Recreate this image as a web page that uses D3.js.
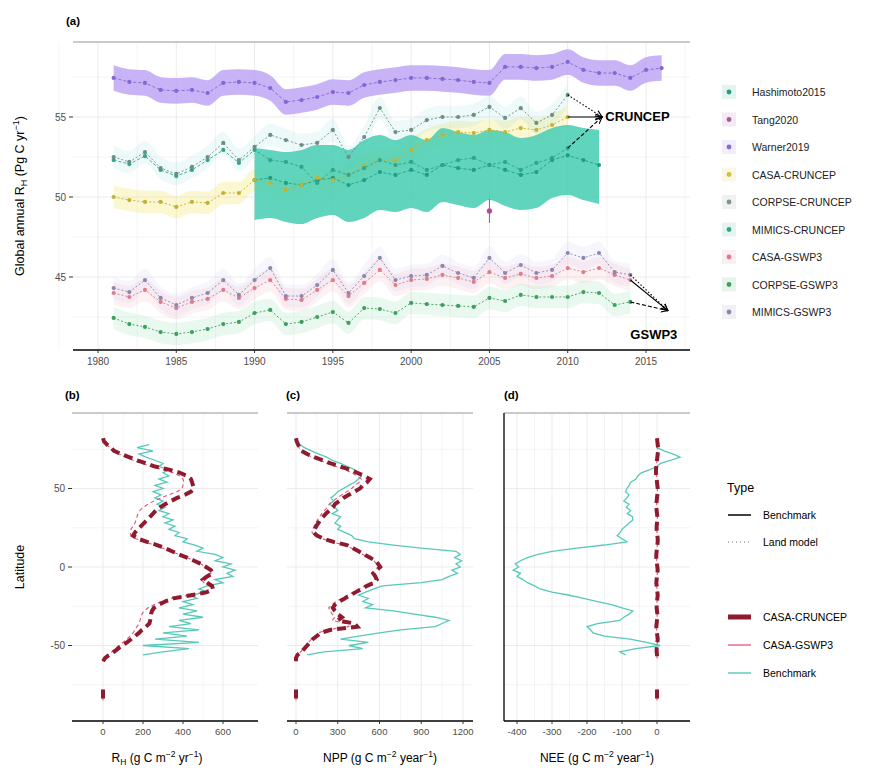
<!DOCTYPE html>
<html>
<head>
<meta charset="utf-8">
<script src="https://cdn.jsdelivr.net/npm/d3@7"></script>
<style>
  body { margin: 0; background: #fff; }
  text { font-family: "Liberation Sans", Arial, sans-serif; }
</style>
</head>
<body>
<svg id="chart" width="893" height="776"></svg>
<script>
// --- Datos panel (a): R_H global anual (Pg C / año) ---
const yearsModel = [1981,1982,1983,1984,1985,1986,1987,1988,1989,1990,1991,1992,1993,1994,1995,1996,1997,1998,1999,2000,2001,2002,2003,2004,2005,2006,2007,2008,2009,2010];
const yearsGswp = [1981,1982,1983,1984,1985,1986,1987,1988,1989,1990,1991,1992,1993,1994,1995,1996,1997,1998,1999,2000,2001,2002,2003,2004,2005,2006,2007,2008,2009,2010,2011,2012,2013,2014];
const yearsWarner = [1981,1982,1983,1984,1985,1986,1987,1988,1989,1990,1991,1992,1993,1994,1995,1996,1997,1998,1999,2000,2001,2002,2003,2004,2005,2006,2007,2008,2009,2010,2011,2012,2013,2014,2015,2016];
const yearsHashimoto = [1990,1991,1992,1993,1994,1995,1996,1997,1998,1999,2000,2001,2002,2003,2004,2005,2006,2007,2008,2009,2010,2011,2012];

const warner = [57.44,57.19,57.13,56.69,56.63,56.69,56.5,57.13,57.19,57.13,56.81,55.94,56.06,56.25,56.56,56.5,57.0,57.19,57.31,57.44,57.44,57.38,57.31,57.19,57.13,58.13,58.13,58.06,58.13,58.44,57.94,57.75,57.75,57.44,57.94,58.06];
const hashimoto = [51.06,51.19,50.88,50.75,51.06,51.19,50.75,51.06,51.56,51.38,51.69,51.38,52.0,51.81,51.69,52.0,51.69,51.38,51.56,52.31,52.6,52.31,52.0];
const hashimotoHigh = [53.06,52.94,52.81,52.94,53.25,53.25,52.94,53.56,53.88,53.56,53.88,53.56,54.31,54.06,53.88,54.19,54.06,53.69,53.88,54.31,54.5,54.31,54.19];
const hashimotoLow = [48.56,48.69,48.44,48.31,48.69,48.88,48.44,48.69,49.19,49.06,49.31,49.06,49.69,49.5,49.31,49.81,49.44,49.19,49.31,49.94,50.13,49.81,49.56];
const tangYear = [2005];
const tang = [49.13];
const tangErr = [0.75];

const casaCru = [50.0,49.81,49.69,49.69,49.38,49.69,49.63,50.25,50.25,51.06,50.88,50.44,50.75,51.19,51.06,51.38,52.0,52.31,52.31,52.94,53.56,53.88,54.06,54.0,54.19,54.06,54.31,54.19,54.5,55.0];
const corpseCru = [52.5,52.19,52.81,51.81,51.44,51.88,52.5,53.38,52.31,53.13,53.88,53.56,53.25,53.38,54.19,52.5,53.75,55.56,54.06,54.19,54.81,55.0,55.0,55.13,55.63,54.94,55.56,54.63,55.13,56.38];
const mimicsCru = [52.31,52.06,52.56,51.69,51.31,51.69,52.31,52.94,52.13,52.94,52.31,52.19,51.88,50.88,51.69,51.38,51.81,52.31,52.0,52.19,51.69,52.0,52.31,52.44,52.0,52.19,51.69,52.13,52.44,53.06];
const casaGswp = [44.0,43.75,44.19,43.44,43.06,43.44,43.63,44.19,43.69,44.31,44.81,43.63,43.56,44.19,44.81,43.81,44.63,45.44,44.5,44.81,44.88,45.13,44.94,44.69,45.31,44.94,45.19,44.94,45.06,45.56,45.31,45.56,45.13,44.81];
const corpseGswp = [42.44,42.06,41.88,41.56,41.44,41.56,41.75,42.06,42.19,42.75,42.94,42.06,42.19,42.5,42.81,42.13,43.06,43.0,42.75,43.38,43.31,43.25,43.19,43.13,43.69,43.5,43.88,43.75,43.75,43.75,44.06,44.0,43.25,43.44];
const mimicsGswp = [44.31,44.06,44.81,43.69,43.25,43.69,44.0,44.81,43.88,44.81,45.56,43.81,43.81,44.5,45.44,44.0,45.06,46.19,44.81,45.06,45.13,45.69,45.25,44.94,46.19,45.25,45.75,45.25,45.44,46.5,46.19,46.5,45.31,45.13];

const legendNamesA = ['Hashimoto2015','Tang2020','Warner2019','CASA-CRUNCEP','CORPSE-CRUNCEP','MIMICS-CRUNCEP','CASA-GSWP3','CORPSE-GSWP3','MIMICS-GSWP3'];
const legendColorsA = ['#1E9E85','#A65C96','#8A6AD6','#D2C03A','#7E958B','#2FA58E','#E07B8C','#3F9F5E','#8E86AE'];
const yearTicks = [1980,1985,1990,1995,2000,2005,2010,2015];
const rhTicks = [45,50,55];

// --- Datos paneles (b)-(d): perfiles latitudinales ---
const latModel = [82,80,78,76,74,72,70,68,66,64,62,60,58,56,54,52,50,48,46,44,42,40,38,36,34,32,30,28,26,24,22,20,18,16,14,12,10,8,6,4,2,0,-2,-4,-6,-8,-10,-12,-14,-16,-18,-20,-22,-24,-26,-28,-30,-32,-34,-36,-38,-40,-42,-44,-46,-48,-50,-52,-54,-56,-58,-60,-62,-64,-66,-68,-70,-72,-74,-76,-78,-80,-82,-84,-86];
const latBench = [78,76,74,72,70,68,66,64,62,60,58,56,54,52,50,48,46,44,42,40,38,36,34,32,30,28,26,24,22,20,18,16,14,12,10,8,6,4,2,0,-2,-4,-6,-8,-10,-12,-14,-16,-18,-20,-22,-24,-26,-28,-30,-32,-34,-36,-38,-40,-42,-44,-46,-48,-50,-52,-54,-56];

const rhCasaCru = [
  0,5,20,40,55,90,130,170,215,260,
  330,385,420,440,445,450,455,440,410,370,
  340,310,285,265,250,235,220,205,190,175,
  160,150,175,220,270,310,345,380,420,455,
  490,515,540,550,520,500,520,545,550,520,
  440,350,310,280,255,245,240,238,236,232,
  215,195,180,160,140,120,95,75,55,30,
  10,0,null,null,null,null,null,null,null,null,
  0,0,0,0,0];
const rhCasaGswp = [
  0,5,18,35,50,80,115,150,195,240,
  300,350,385,400,405,400,395,370,330,290,
  255,225,200,185,175,170,165,160,150,140,
  135,140,165,210,255,300,340,380,420,455,
  490,510,530,540,510,490,505,530,535,505,
  430,340,290,255,225,205,195,190,185,180,
  170,160,150,135,120,100,80,60,45,25,
  8,0,null,null,null,null,null,null,null,null,
  0,0,0,0,0];
const rhBench = [
  230,170,250,180,215,260,300,280,330,300,
  330,280,320,260,300,250,290,260,300,270,
  310,280,330,300,350,310,360,330,380,360,
  420,400,460,500,470,560,600,560,640,600,
  660,620,650,560,600,520,480,520,430,470,
  400,450,380,470,400,500,380,440,330,480,
  300,420,260,480,200,430,300,200];

const nppCasaCru = [
  0,5,15,25,40,80,130,190,250,320,
  390,440,490,530,510,480,460,420,380,340,
  310,280,265,240,215,195,175,160,145,135,
  125,150,200,270,365,410,450,490,530,570,
  590,605,580,555,570,580,560,510,470,430,
  390,350,310,280,265,280,300,330,300,420,
  440,250,175,150,120,100,80,60,40,10,
  0,0,null,null,null,null,null,null,null,null,
  0,0,0,0,0];
const nppCasaGswp = [
  0,5,12,22,35,70,115,170,225,290,
  350,400,440,470,455,425,400,365,330,295,
  265,240,225,205,185,170,155,140,130,120,
  115,140,190,260,350,400,440,480,520,560,
  580,595,570,545,560,570,550,500,455,410,
  370,330,290,255,235,245,260,280,260,360,
  380,220,160,135,110,90,70,50,35,8,
  0,0,null,null,null,null,null,null,null,null,
  0,0,0,0,0];
const nppBench = [
  30,60,110,160,220,260,320,370,420,450,
  470,450,420,380,340,300,280,250,270,240,
  280,300,260,320,300,280,320,300,350,400,
  420,520,700,900,1150,1180,1140,1190,1150,1180,
  1120,1160,1100,1050,900,620,560,500,450,520,
  480,550,500,700,850,1000,1100,1050,1000,750,
  600,450,320,520,380,480,200,80];

const neeCasaCru = [
  0,1,2,3,3,2,1,0,-1,-2,
  -3,-3,-2,-1,0,1,2,2,1,0,
  -1,-2,-2,-1,0,1,1,0,-1,-1,
  0,1,2,2,1,0,-1,-2,-2,-1,
  0,1,2,1,0,-1,-2,-1,0,1,
  2,1,0,-1,-1,0,1,1,0,-1,
  -2,-1,0,1,2,1,0,-1,-1,0,
  0,0,null,null,null,null,null,null,null,null,
  0,0,0,0,0];
const neeCasaGswp = [
  0,1,1,2,2,1,0,0,-1,-1,
  -2,-2,-1,0,0,1,1,1,0,0,
  -1,-1,-1,0,0,1,1,0,0,-1,
  0,0,1,1,1,0,0,-1,-1,-1,
  0,1,1,1,0,0,-1,-1,0,1,
  1,1,0,0,-1,0,0,1,0,0,
  -1,-1,0,0,1,1,0,0,-1,0,
  0,0,null,null,null,null,null,null,null,null,
  0,0,0,0,0];
const neeBench = [
  5,0,20,45,66,40,10,0,-20,-45,
  -55,-60,-75,-80,-86,-90,-80,-86,-95,-80,
  -88,-75,-85,-70,-69,-80,-90,-100,-105,-114,
  -100,-86,-150,-230,-300,-340,-370,-390,-405,-395,
  -411,-390,-400,-383,-370,-350,-334,-300,-250,-210,
  -170,-130,-100,-69,-80,-95,-106,-170,-200,-190,
  -183,-150,-77,-30,9,-60,-106,-90];

const latTicks = [-50,0,50];
const rhProfileTicks = [0,200,400,600];
const nppTicks = [0,300,600,900,1200];
const neeTicks = [-400,-300,-200,-100,0];

const colBench = '#56C9B9';
const colCasaCru = '#8E1B2E';
const colCasaGswp = '#E0577A';

const svg = d3.select('#chart');
const grid = '#ebebeb', gridMinor = '#f4f4f4', tickCol = '#4d4d4d';

// --- Panel (a) ---
const A = { left: 73, right: 690, top: 42, bottom: 350 };
const xA = d3.scaleLinear().domain([1980, 2015]).range([98, 646]);
const yA = d3.scaleLinear().domain([45, 55]).range([277, 117]);
const gA = svg.append('g');

[1977.5,1982.5,1987.5,1992.5,1997.5,2002.5,2007.5,2012.5,2017.5].forEach(v => {
  gA.append('line').attr('x1', xA(v)).attr('x2', xA(v)).attr('y1', A.top).attr('y2', A.bottom).attr('stroke', gridMinor);
});
[42.5,47.5,52.5,57.5].forEach(v => {
  gA.append('line').attr('x1', A.left).attr('x2', A.right).attr('y1', yA(v)).attr('y2', yA(v)).attr('stroke', gridMinor);
});
yearTicks.forEach(v => {
  gA.append('line').attr('x1', xA(v)).attr('x2', xA(v)).attr('y1', A.top).attr('y2', A.bottom).attr('stroke', grid);
});
rhTicks.forEach(v => {
  gA.append('line').attr('x1', A.left).attr('x2', A.right).attr('y1', yA(v)).attr('y2', yA(v)).attr('stroke', grid);
});
gA.append('line').attr('x1', A.left).attr('x2', A.right).attr('y1', A.top).attr('y2', A.top).attr('stroke', '#b8b8b8').attr('stroke-width', 1.3);

// bandas
function band(g, xs, lo, hi, fill, op) {
  const area = d3.area().x((d, i) => xA(xs[i])).y0((d, i) => yA(lo[i])).y1((d, i) => yA(hi[i])).curve(d3.curveMonotoneX);
  g.append('path').datum(xs).attr('d', area).attr('fill', fill).attr('opacity', op);
}
const faint = [
  [yearsModel, casaCru, '#F2E97A', 0.35],
  [yearsModel, corpseCru, '#9FE0E6', 0.18],
  [yearsGswp, casaGswp, '#F6B3BE', 0.18],
  [yearsGswp, corpseGswp, '#A9E6BF', 0.25],
  [yearsGswp, mimicsGswp, '#D9D2EE', 0.2]
];
faint.forEach(([xs, v, c, op]) => band(gA, xs, v.map(d => d - 0.7), v.map(d => d + 0.7), c, op));
band(gA, yearsWarner, warner.map(d => d - 0.8), warner.map(d => d + 0.8), '#B9A0F2', 0.8);
band(gA, yearsHashimoto, hashimotoLow, hashimotoHigh, '#45CDB3', 0.85);

function series(g, xs, v, color, dash) {
  const line = d3.line().x((d, i) => xA(xs[i])).y(d => yA(d));
  g.append('path').datum(v).attr('d', line).attr('fill', 'none').attr('stroke', color)
    .attr('stroke-width', 0.9).attr('stroke-dasharray', dash);
  g.selectAll(null).data(v).enter().append('circle')
    .attr('cx', (d, i) => xA(xs[i])).attr('cy', d => yA(d)).attr('r', 2.1).attr('fill', color);
}
series(gA, yearsWarner, warner, '#8566D4', '3,2');
series(gA, yearsHashimoto, hashimoto, '#1E9E85', '3,2');
series(gA, yearsModel, casaCru, '#C4B233', '2,2');
series(gA, yearsModel, mimicsCru, '#2FA58E', '3,2');
series(gA, yearsModel, corpseCru, '#6E8F83', '2,2');
series(gA, yearsGswp, casaGswp, '#E07B8C', '2,2');
series(gA, yearsGswp, mimicsGswp, '#8E86AE', '2,2');
series(gA, yearsGswp, corpseGswp, '#3F9F5E', '2,2');

// Tang2020 con barra de error
tang.forEach((v, i) => {
  gA.append('line').attr('x1', xA(tangYear[i])).attr('x2', xA(tangYear[i]))
    .attr('y1', yA(v - tangErr[i])).attr('y2', yA(v + tangErr[i])).attr('stroke', '#B5489A').attr('stroke-width', 1);
  gA.append('circle').attr('cx', xA(tangYear[i])).attr('cy', yA(v)).attr('r', 2.6).attr('fill', '#B5489A');
});

// flechas
svg.append('defs').append('marker').attr('id', 'arr').attr('viewBox', '0 0 10 10')
  .attr('refX', 9).attr('refY', 5).attr('markerWidth', 7).attr('markerHeight', 7).attr('orient', 'auto')
  .append('path').attr('d', 'M0,1 L9,5 L0,9').attr('fill', 'none').attr('stroke', '#000').attr('stroke-width', 1.4);
const cruTip = [2012.2, 55];
[[corpseCru, '1.5,2'], [casaCru, null], [mimicsCru, '4,2']].forEach(([v, dash]) => {
  gA.append('line').attr('x1', xA(2010)).attr('y1', yA(v[v.length - 1]))
    .attr('x2', xA(cruTip[0])).attr('y2', yA(cruTip[1])).attr('stroke', '#000').attr('stroke-width', 1.1)
    .attr('stroke-dasharray', dash).attr('marker-end', 'url(#arr)');
});
gA.append('text').attr('x', xA(2012.4)).attr('y', yA(54.72)).attr('font-size', 13).attr('font-weight', 'bold').text('CRUNCEP');
const gswTip = [2016.4, 42.9];
[[mimicsGswp, '1.5,2'], [casaGswp, null], [corpseGswp, '4,2']].forEach(([v, dash]) => {
  gA.append('line').attr('x1', xA(2014)).attr('y1', yA(v[v.length - 1]))
    .attr('x2', xA(gswTip[0])).attr('y2', yA(gswTip[1])).attr('stroke', '#000').attr('stroke-width', 1.1)
    .attr('stroke-dasharray', dash).attr('marker-end', 'url(#arr)');
});
gA.append('text').attr('x', xA(2015.5)).attr('y', yA(41.15)).attr('text-anchor', 'middle')
  .attr('font-size', 13).attr('font-weight', 'bold').text('GSWP3');

// ejes (a)
gA.append('line').attr('x1', A.left).attr('x2', A.right).attr('y1', A.bottom).attr('y2', A.bottom).attr('stroke', '#000').attr('stroke-width', 1.3);
yearTicks.forEach(v => {
  gA.append('line').attr('x1', xA(v)).attr('x2', xA(v)).attr('y1', A.bottom).attr('y2', A.bottom + 3).attr('stroke', '#333');
  gA.append('text').attr('x', xA(v)).attr('y', A.bottom + 15).attr('text-anchor', 'middle').attr('font-size', 10).attr('fill', tickCol).text(v);
});
rhTicks.forEach(v => {
  gA.append('line').attr('x1', A.left - 4).attr('x2', A.left).attr('y1', yA(v)).attr('y2', yA(v)).attr('stroke', '#333');
  gA.append('text').attr('x', A.left - 7).attr('y', yA(v) + 3.5).attr('text-anchor', 'end').attr('font-size', 10).attr('fill', tickCol).text(v);
});
const ttlA = gA.append('text').attr('transform', `translate(24,${(A.top + A.bottom) / 2}) rotate(-90)`)
  .attr('text-anchor', 'middle').attr('font-size', 12.5);
ttlA.append('tspan').text('Global annual R');
ttlA.append('tspan').attr('font-size', 9).attr('dy', 3).text('H');
ttlA.append('tspan').attr('dy', -3).text(' (Pg C yr');
ttlA.append('tspan').attr('font-size', 9).attr('dy', -5).text('−1');
ttlA.append('tspan').attr('dy', 5).text(')');
gA.append('text').attr('x', 66).attr('y', 25).attr('font-size', 11.5).attr('font-weight', 'bold').text('(a)');

// leyenda (a)
const legA = svg.append('g').attr('transform', 'translate(722,92)');
legendNamesA.forEach((n, i) => {
  const row = legA.append('g').attr('transform', `translate(0,${i * 27.5})`);
  row.append('rect').attr('x', 0).attr('y', -7).attr('width', 14).attr('height', 14).attr('fill', legendColorsA[i]).attr('opacity', 0.12);
  row.append('circle').attr('cx', 7).attr('cy', 0).attr('r', 2.4).attr('fill', legendColorsA[i]);
  row.append('text').attr('x', 30).attr('y', 4).attr('font-size', 10.5).attr('fill', '#222').text(n);
});

// --- Paneles (b)-(d) ---
const pTop = 413, pBottom = 721;
const yL = d3.scaleLinear().domain([-50, 50]).range([645.5, 488.5]);
const panels = [
  { id: '(b)', lab: 65, left: 72, right: 258, x: d3.scaleLinear().domain([0, 600]).range([103, 223]), ticks: rhProfileTicks,
    cru: rhCasaCru, gsw: rhCasaGswp, bench: rhBench, yAxis: true, leftLine: false, title: 'rh' },
  { id: '(c)', lab: 286, left: 287, right: 473, x: d3.scaleLinear().domain([0, 1200]).range([296, 463]), ticks: nppTicks,
    cru: nppCasaCru, gsw: nppCasaGswp, bench: nppBench, yAxis: false, leftLine: false, title: 'NPP' },
  { id: '(d)', lab: 504, left: 504, right: 690, x: d3.scaleLinear().domain([-400, 0]).range([517, 657]), ticks: neeTicks,
    cru: neeCasaCru, gsw: neeCasaGswp, bench: neeBench, yAxis: false, leftLine: true, title: 'NEE' }
];

panels.forEach(p => {
  const g = svg.append('g');
  const minor = [];
  for (let i = 0; i < p.ticks.length - 1; i++) minor.push((p.ticks[i] + p.ticks[i + 1]) / 2);
  minor.forEach(v => g.append('line').attr('x1', p.x(v)).attr('x2', p.x(v)).attr('y1', pTop).attr('y2', pBottom).attr('stroke', gridMinor));
  [-75, -25, 25, 75].forEach(v => g.append('line').attr('x1', p.left).attr('x2', p.right).attr('y1', yL(v)).attr('y2', yL(v)).attr('stroke', gridMinor));
  p.ticks.forEach(v => g.append('line').attr('x1', p.x(v)).attr('x2', p.x(v)).attr('y1', pTop).attr('y2', pBottom).attr('stroke', grid));
  latTicks.forEach(v => g.append('line').attr('x1', p.left).attr('x2', p.right).attr('y1', yL(v)).attr('y2', yL(v)).attr('stroke', grid));
  g.append('line').attr('x1', p.left).attr('x2', p.right).attr('y1', pTop).attr('y2', pTop).attr('stroke', '#b8b8b8').attr('stroke-width', 1.3);

  const lineM = d3.line().defined(d => d != null).x(d => p.x(d)).y((d, i) => yL(latModel[i]));
  const lineB = d3.line().x(d => p.x(d)).y((d, i) => yL(latBench[i]));
  g.append('path').datum(p.bench).attr('d', lineB).attr('fill', 'none').attr('stroke', colBench).attr('stroke-width', 1.3);
  g.append('path').datum(p.gsw).attr('d', lineM).attr('fill', 'none').attr('stroke', colCasaGswp)
    .attr('stroke-width', 1.1).attr('stroke-dasharray', '4,3');
  g.append('path').datum(p.cru).attr('d', lineM).attr('fill', 'none').attr('stroke', colCasaCru)
    .attr('stroke-width', 4).attr('stroke-dasharray', '9,5');

  g.append('line').attr('x1', p.left).attr('x2', p.right).attr('y1', pBottom).attr('y2', pBottom).attr('stroke', '#000').attr('stroke-width', 1.3);
  if (p.leftLine) g.append('line').attr('x1', p.left).attr('x2', p.left).attr('y1', pTop).attr('y2', pBottom).attr('stroke', '#000').attr('stroke-width', 1.3);
  p.ticks.forEach(v => {
    g.append('line').attr('x1', p.x(v)).attr('x2', p.x(v)).attr('y1', pBottom).attr('y2', pBottom + 3).attr('stroke', '#333');
    g.append('text').attr('x', p.x(v)).attr('y', pBottom + 14).attr('text-anchor', 'middle').attr('font-size', 9.5).attr('fill', tickCol).text(v);
  });
  if (p.yAxis) {
    latTicks.forEach(v => {
      g.append('line').attr('x1', p.left - 4).attr('x2', p.left).attr('y1', yL(v)).attr('y2', yL(v)).attr('stroke', '#333');
      g.append('text').attr('x', p.left - 7).attr('y', yL(v) + 3.5).attr('text-anchor', 'end').attr('font-size', 10).attr('fill', tickCol).text(v);
    });
    g.append('text').attr('transform', `translate(24,${(pTop + pBottom) / 2}) rotate(-90)`).attr('text-anchor', 'middle')
      .attr('font-size', 12.5).text('Latitude');
  }
  g.append('text').attr('x', p.lab).attr('y', 399).attr('font-size', 11.5).attr('font-weight', 'bold').text(p.id);

  const t = g.append('text').attr('x', (p.left + p.right) / 2 - (p.title === 'rh' ? 8 : 0)).attr('y', 762)
    .attr('text-anchor', 'middle').attr('font-size', 12);
  if (p.title === 'rh') {
    t.append('tspan').text('R');
    t.append('tspan').attr('font-size', 8.5).attr('dy', 3).text('H');
    t.append('tspan').attr('dy', -3).text(' (g C m');
    t.append('tspan').attr('font-size', 8.5).attr('dy', -5).text('−2');
    t.append('tspan').attr('dy', 5).text(' yr');
  } else {
    t.append('tspan').text(p.title + ' (g C m');
    t.append('tspan').attr('font-size', 8.5).attr('dy', -5).text('−2');
    t.append('tspan').attr('dy', 5).text(' year');
  }
  t.append('tspan').attr('font-size', 8.5).attr('dy', -5).text('−1');
  t.append('tspan').attr('dy', 5).text(')');
});

// leyendas (b)-(d)
const legB = svg.append('g').attr('transform', 'translate(727,0)');
legB.append('text').attr('x', 0).attr('y', 492).attr('font-size', 12.5).text('Type');
legB.append('line').attr('x1', 1).attr('x2', 24).attr('y1', 515).attr('y2', 515).attr('stroke', '#000').attr('stroke-width', 1.5);
legB.append('text').attr('x', 36).attr('y', 519).attr('font-size', 10.5).text('Benchmark');
legB.append('line').attr('x1', 1).attr('x2', 24).attr('y1', 542).attr('y2', 542).attr('stroke', '#000')
  .attr('stroke-width', 0.6).attr('stroke-dasharray', '1,3');
legB.append('text').attr('x', 36).attr('y', 546).attr('font-size', 10.5).text('Land model');
const keysB = [['CASA-CRUNCEP', colCasaCru, 5], ['CASA-GSWP3', colCasaGswp, 1.3], ['Benchmark', colBench, 1.4]];
keysB.forEach(([n, c, w], i) => {
  const y = 617 + i * 28;
  legB.append('line').attr('x1', 1).attr('x2', 24).attr('y1', y).attr('y2', y).attr('stroke', c).attr('stroke-width', w);
  legB.append('text').attr('x', 36).attr('y', y + 4).attr('font-size', 10.5).text(n);
});
</script>
</body>
</html>
